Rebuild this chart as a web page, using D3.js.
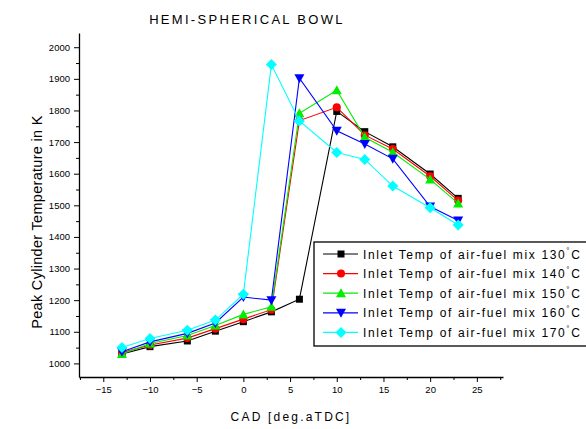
<!DOCTYPE html>
<html><head><meta charset="utf-8">
<script src="https://cdn.jsdelivr.net/npm/d3@7"></script>
<style>body{margin:0;background:#fff;}svg{display:block;font-family:"Liberation Sans",Arial,sans-serif;}</style>
</head><body>
<script>
const cad = [-13, -10, -6, -3, 0, 3, 6, 10, 13, 16, 20, 23];
const t130 = [1030, 1053, 1071, 1102, 1132, 1163, 1203, 1797, 1733, 1685, 1599, 1522];
const t140 = [1034, 1058, 1080, 1110, 1140, 1170, 1768, 1810, 1722, 1678, 1592, 1515];
const t150 = [1030, 1063, 1088, 1120, 1155, 1179, 1791, 1864, 1715, 1668, 1582, 1506];
const t160 = [1037, 1068, 1095, 1128, 1210, 1200, 1902, 1736, 1694, 1647, 1496, 1452];
const t170 = [1050, 1079, 1105, 1137, 1219, 1945, 1767, 1667, 1645, 1561, 1492, 1438];
const seriesNames = ["Inlet Temp of air-fuel mix 130", "Inlet Temp of air-fuel mix 140", "Inlet Temp of air-fuel mix 150", "Inlet Temp of air-fuel mix 160", "Inlet Temp of air-fuel mix 170"];
const seriesValues = [t130, t140, t150, t160, t170];
const colors = ["#000000", "#ff0000", "#00ee00", "#0000ff", "#00ffff"];
const symbols = ["square", "circle", "up", "down", "diamond"];
const xTicks = [-15, -10, -5, 0, 5, 10, 15, 20, 25];
const yTicks = [1000, 1100, 1200, 1300, 1400, 1500, 1600, 1700, 1800, 1900, 2000];

const W = 586, H = 429;
const svg = d3.select("body").append("svg").attr("width", W).attr("height", H);
const x = d3.scaleLinear().domain([-17.6, 27.8]).range([79, 503]);
const y = d3.scaleLinear().domain([957, 2045]).range([377, 33]);

svg.append("text").attr("x", 247).attr("y", 24).attr("text-anchor", "middle")
  .attr("font-size", 13).attr("letter-spacing", 2.3).text("HEMI-SPHERICAL BOWL");

// axes
const ya = svg.append("g").attr("transform", "translate(79,0)")
  .call(d3.axisLeft(y).tickValues(yTicks).tickSize(5).tickSizeOuter(0).tickFormat(d3.format("d")));
ya.select(".domain").attr("stroke-width", 1.3);
ya.selectAll("text").attr("font-size", 9.5).attr("x", -9).attr("font-family", "Liberation Sans, Arial, sans-serif");
svg.append("g").attr("transform", "translate(79,0)")
  .call(d3.axisLeft(y).tickValues(d3.range(1050, 2050, 100)).tickSize(3).tickFormat(""))
  .select(".domain").remove();

const xa = svg.append("g").attr("transform", "translate(0,377)")
  .call(d3.axisBottom(x).tickValues(xTicks).tickSize(5).tickSizeOuter(0));
xa.select(".domain").attr("stroke-width", 1.3);
xa.selectAll("text").attr("font-size", 9.5).attr("y", 9).attr("font-family", "Liberation Sans, Arial, sans-serif");
svg.append("g").attr("transform", "translate(0,377)")
  .call(d3.axisBottom(x).tickValues(d3.range(-17.5, 27.6, 5)).tickSize(3).tickFormat(""))
  .select(".domain").remove();

svg.append("text").attr("x", 291).attr("y", 421).attr("text-anchor", "middle")
  .attr("font-size", 12).attr("letter-spacing", 2.2).text("CAD [deg.aTDC]");
svg.append("text").attr("transform", "translate(42,222) rotate(-90)").attr("text-anchor", "middle")
  .attr("font-size", 14.5).attr("letter-spacing", 0.3).text("Peak Cylinder Temperature in K");

function drawSym(g, type, color, cx, cy) {
  if (type === "square") g.append("rect").attr("x", cx - 3.5).attr("y", cy - 3.5).attr("width", 7).attr("height", 7).attr("fill", color);
  else if (type === "circle") g.append("circle").attr("cx", cx).attr("cy", cy).attr("r", 4).attr("fill", color);
  else if (type === "up") g.append("path").attr("d", `M${cx},${cy-5}L${cx+5},${cy+4}L${cx-5},${cy+4}Z`).attr("fill", color);
  else if (type === "down") g.append("path").attr("d", `M${cx},${cy+5}L${cx+5},${cy-4}L${cx-5},${cy-4}Z`).attr("fill", color);
  else if (type === "diamond") g.append("path").attr("d", `M${cx},${cy-5.5}L${cx+5.5},${cy}L${cx},${cy+5.5}L${cx-5.5},${cy}Z`).attr("fill", color);
}

const line = d3.line().x(d => x(d[0])).y(d => y(d[1]));
seriesValues.forEach((vals, i) => {
  const pts = cad.map((c, j) => [c, vals[j]]);
  const g = svg.append("g");
  g.append("path").attr("d", line(pts)).attr("fill", "none").attr("stroke", colors[i]).attr("stroke-width", 1.1);
  pts.forEach(p => drawSym(g, symbols[i], colors[i], x(p[0]), y(p[1])));
});

// legend
const lg = svg.append("g");
lg.append("rect").attr("x", 314).attr("y", 242).attr("width", 290).attr("height", 104)
  .attr("fill", "#fff").attr("stroke", "#000").attr("stroke-width", 1.3);
seriesNames.forEach((n, i) => {
  const ly = 254 + i * 19.6;
  lg.append("line").attr("x1", 323).attr("x2", 358).attr("y1", ly).attr("y2", ly).attr("stroke", colors[i]).attr("stroke-width", 1.2);
  drawSym(lg, symbols[i], colors[i], 341, ly);
  const t = lg.append("text").attr("x", 363).attr("y", ly + 4.5).attr("font-size", 12).attr("letter-spacing", 1.65);
  t.append("tspan").text(n);
  t.append("tspan").attr("font-size", 8).attr("dy", -6).text("°");
  t.append("tspan").attr("dy", 6).text("C");
});
</script>
</body></html>
